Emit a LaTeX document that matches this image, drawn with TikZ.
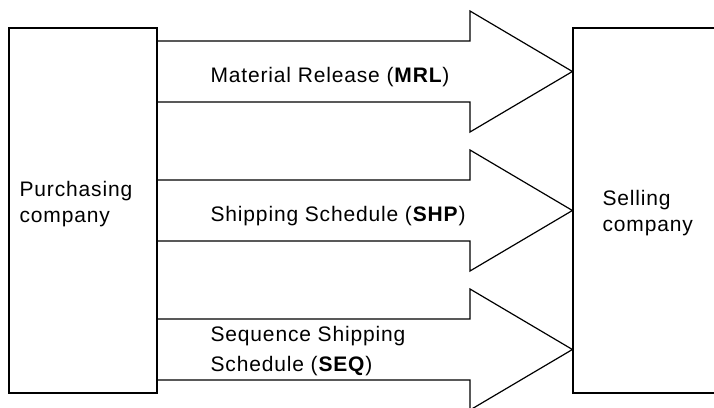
\documentclass[tikz,border=0pt]{standalone}
\usepackage{fontspec}
\setmainfont{Liberation Sans}[LetterSpace=4]
\begin{document}
\begin{tikzpicture}[x=1pt,y=-1pt,line width=1.2pt,
company/.style={draw,minimum width=148pt,minimum height=365pt,inner sep=0pt},
label text/.style={anchor=base west,inner sep=0pt,align=left,
  font=\fontsize{21}{26}\selectfont}]
\useasboundingbox (0,0) rectangle (714,407);
\def\shaft{30.5}
\def\head{60.5}
\def\neck{470}
% the two companies
\node[company] (purch) at (83,210.5) {};
\node[company] (sell) at (647,210.5) {};
% the three messages
\foreach \y/\nm in {71.5/mrl,210.5/shp,349.5/seq}{
  \coordinate (\nm tip) at (sell.west |- 0,\y);
  \draw (purch.east |- 0,\y-\shaft) -- (\neck,\y-\shaft) -- (\neck,\y-\head)
    -- (\nm tip) -- (\neck,\y+\head) -- (\neck,\y+\shaft)
    -- (purch.east |- 0,\y+\shaft);
}
% labels (base = last line)
\node[label text] (mrllabel) at (210,82) {Material Release (\textbf{MRL})};
\node[label text] (shplabel) at (210,221) {Shipping Schedule (\textbf{SHP})};
\node[label text] (seqlabel) at (210,371.5) {Sequence Shipping\\[4pt]Schedule (\textbf{SEQ})};
\node[label text] (purchlabel) at (19,222) {Purchasing\\company};
\node[label text] (selllabel) at (602,231) {Selling\\company};
\end{tikzpicture}
\end{document}
